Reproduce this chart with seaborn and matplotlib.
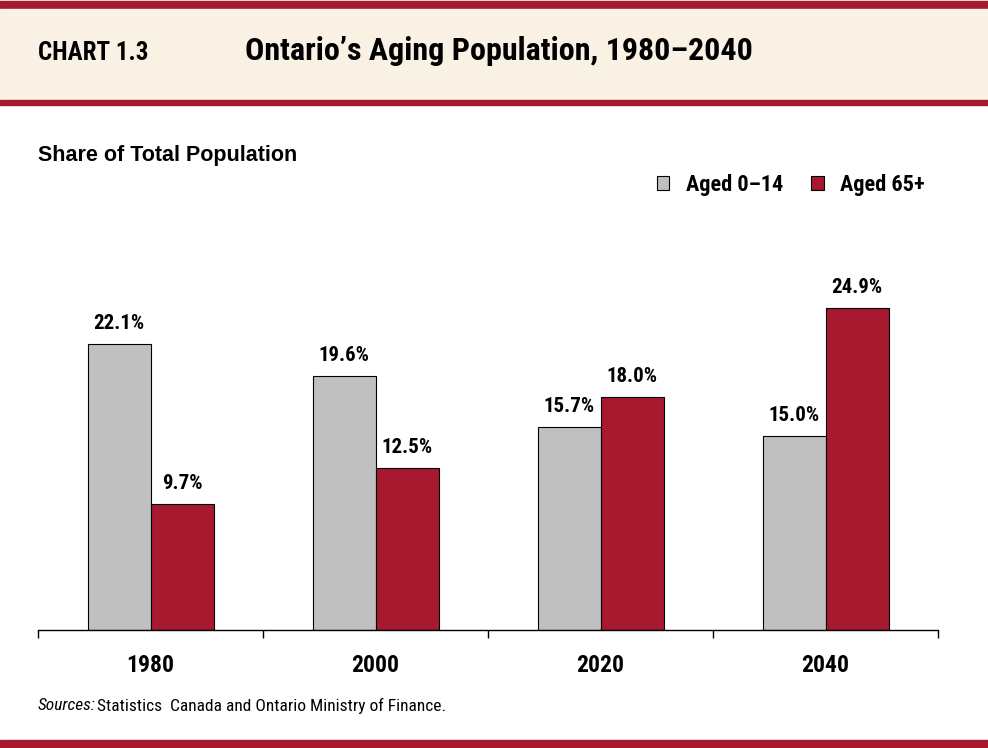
import pandas as pd
import numpy as np
import matplotlib.pyplot as plt
import seaborn as sns
from matplotlib.patches import Rectangle

# Chart data
years = ['1980', '2000', '2020', '2040']
aged_0_14 = [22.1, 19.6, 15.7, 15.0]
aged_65_plus = [9.7, 12.5, 18.0, 24.9]
series_names = ['Aged 0\u201314', 'Aged 65+']

GRAY = '#C0C0C0'
RED = '#A6192E'
BEIGE = '#F8F1E4'
NARROW = ['Roboto Condensed', 'Liberation Sans', 'DejaVu Sans']
WIDE = ['Liberation Sans', 'DejaVu Sans']


def create_aging_plot():
    df = pd.DataFrame({
        'year': years * 2,
        'share': aged_0_14 + aged_65_plus,
        'group': [series_names[0]] * len(years) + [series_names[1]] * len(years),
    })

    sns.set_theme(style='white')
    plt.rcParams['font.family'] = NARROW
    plt.rcParams['text.color'] = 'black'
    plt.rcParams['xtick.color'] = 'black'

    fig = plt.figure(figsize=(9.88, 7.48), dpi=100)
    W, H = 988, 748

    # header / footer bands
    def band(y0, y1, color):
        fig.patches.append(Rectangle((0, 1 - y1 / H), 1, (y1 - y0) / H,
                                     transform=fig.transFigure, color=color, zorder=0))
    band(1, 9, RED)
    band(9, 100, BEIGE)
    band(100, 105, RED)
    band(740, 748, RED)

    fig.text(38 / W, 1 - 53 / H, 'CHART 1.3', fontsize=18, fontweight='bold',
             va='center', ha='left', family=NARROW)
    fig.text(245 / W, 1 - 51 / H, 'Ontario\u2019s Aging Population, 1980\u20132040',
             fontsize=23, fontweight='bold', va='center', ha='left', family=NARROW)
    fig.text(38 / W, 1 - 155 / H, 'Share of Total Population', fontsize=15.5,
             fontweight='bold', va='center', ha='left', family=WIDE)

    ax = fig.add_axes([38 / W, 1 - 630 / H, 900 / W, 400 / H])
    sns.barplot(data=df, x='year', y='share', hue='group', order=years,
                hue_order=series_names, palette=[GRAY, RED], width=0.56,
                edgecolor='black', linewidth=0.8, saturation=1, ax=ax)

    for cont in ax.containers:
        ax.bar_label(cont, fmt='%.1f%%', padding=8, fontsize=15, fontweight='bold')

    ax.set_xlim(-0.5, len(years) - 0.5)
    ax.set_ylim(0, 400 / 12.94)
    ax.set_xlabel('')
    ax.set_ylabel('')
    ax.set_yticks([])
    for side in ['top', 'right', 'left']:
        ax.spines[side].set_visible(False)
    ax.spines['bottom'].set_color('black')
    ax.spines['bottom'].set_linewidth(1)

    ax.set_xticks(np.arange(-0.5, len(years)), minor=True)
    ax.tick_params(axis='x', which='minor', length=6, width=1, color='black',
                   direction='out', bottom=True)
    ax.tick_params(axis='x', which='major', length=0, pad=17, labelsize=17)
    for lab in ax.get_xticklabels():
        lab.set_fontweight('bold')

    handles, labels = ax.get_legend_handles_labels()
    ax.get_legend().remove()
    fig.legend(handles, labels, loc='center left', bbox_to_anchor=(637 / W, 1 - 185 / H),
               ncol=2, frameon=False, handlelength=0.56, handleheight=0.56,
               handletextpad=0.75, columnspacing=1.25,
               prop={'family': NARROW, 'weight': 'bold', 'size': 16})

    fig.text(38 / W, 1 - 706 / H, 'Sources:', fontsize=12.5, style='italic',
             va='center', ha='left', family=NARROW)
    fig.text(97 / W, 1 - 706 / H, 'Statistics  Canada and Ontario Ministry of Finance.',
             fontsize=12.5, va='center', ha='left', family=NARROW)

    fig.savefig('out.png', dpi=100)


if __name__ == '__main__':
    create_aging_plot()
